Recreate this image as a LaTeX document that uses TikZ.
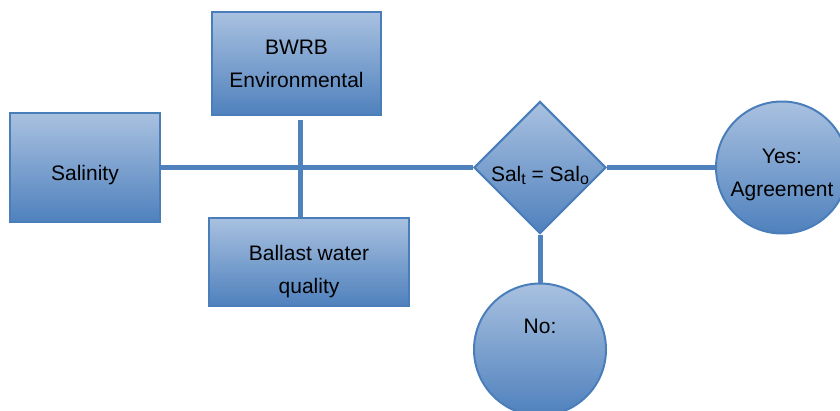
\documentclass[tikz,border=0pt]{standalone}
\usepackage{fontspec}
\setmainfont{Liberation Sans}
\usetikzlibrary{positioning,shapes.geometric}
\definecolor{bluefill}{HTML}{4F81BD}
\definecolor{bluelight}{HTML}{A9C1E0}
\definecolor{blueline}{HTML}{4A7EBB}
\newcommand{\salsub}[1]{\raisebox{-3pt}{\fontsize{16}{16}\selectfont #1}}
\newcommand{\topgap}[1]{\rule{0pt}{#1}}

\begin{document}
\begin{tikzpicture}[x=1pt, y=1pt, on grid, font=\fontsize{21}{33}\selectfont,
	main/.style={draw=blueline, line width=2pt, top color=bluelight, bottom color=bluefill, align=center, inner sep=0pt},
	box/.style={main, rectangle},
	test/.style={main, diamond, minimum width=130pt, minimum height=128pt},
	result/.style={main, circle, minimum size=132pt},
	link/.style={draw=bluefill, line width=5pt}]
		\useasboundingbox (-85,167.5) rectangle (755,-242.5);
		
		\node[box, minimum width=150pt, minimum height=109pt] (1) {\topgap{29.5pt}Salinity};
		\node[box, minimum width=169pt, minimum height=103pt] (2) [above right=104pt and 211.5pt of 1] {BWRB\\Environmental};
		\node[box, minimum width=200pt, minimum height=88pt] (3) [below right=94pt and 224pt of 1] {\topgap{35pt}Ballast water\\quality};
		\node[test] (4) [right=455pt of 1] {\topgap{31pt}Sal\salsub{t} = Sal\salsub{o}};
		\node[result] (5) [right=242pt of 4] {\topgap{28.5pt}Yes:\\Agreement};
		\node[result, text depth=46pt] (6) [below=182pt of 4] {No:};
		
		\draw[link] (1) -- (4);
		\draw[link] (4) -- (5);
		\draw[link] (4) -- (6);
		\draw[link] ([xshift=4pt,yshift=-4pt]2.south) -- ([xshift=4pt]2.south |- 3.north);
	\end{tikzpicture}
\end{document}
